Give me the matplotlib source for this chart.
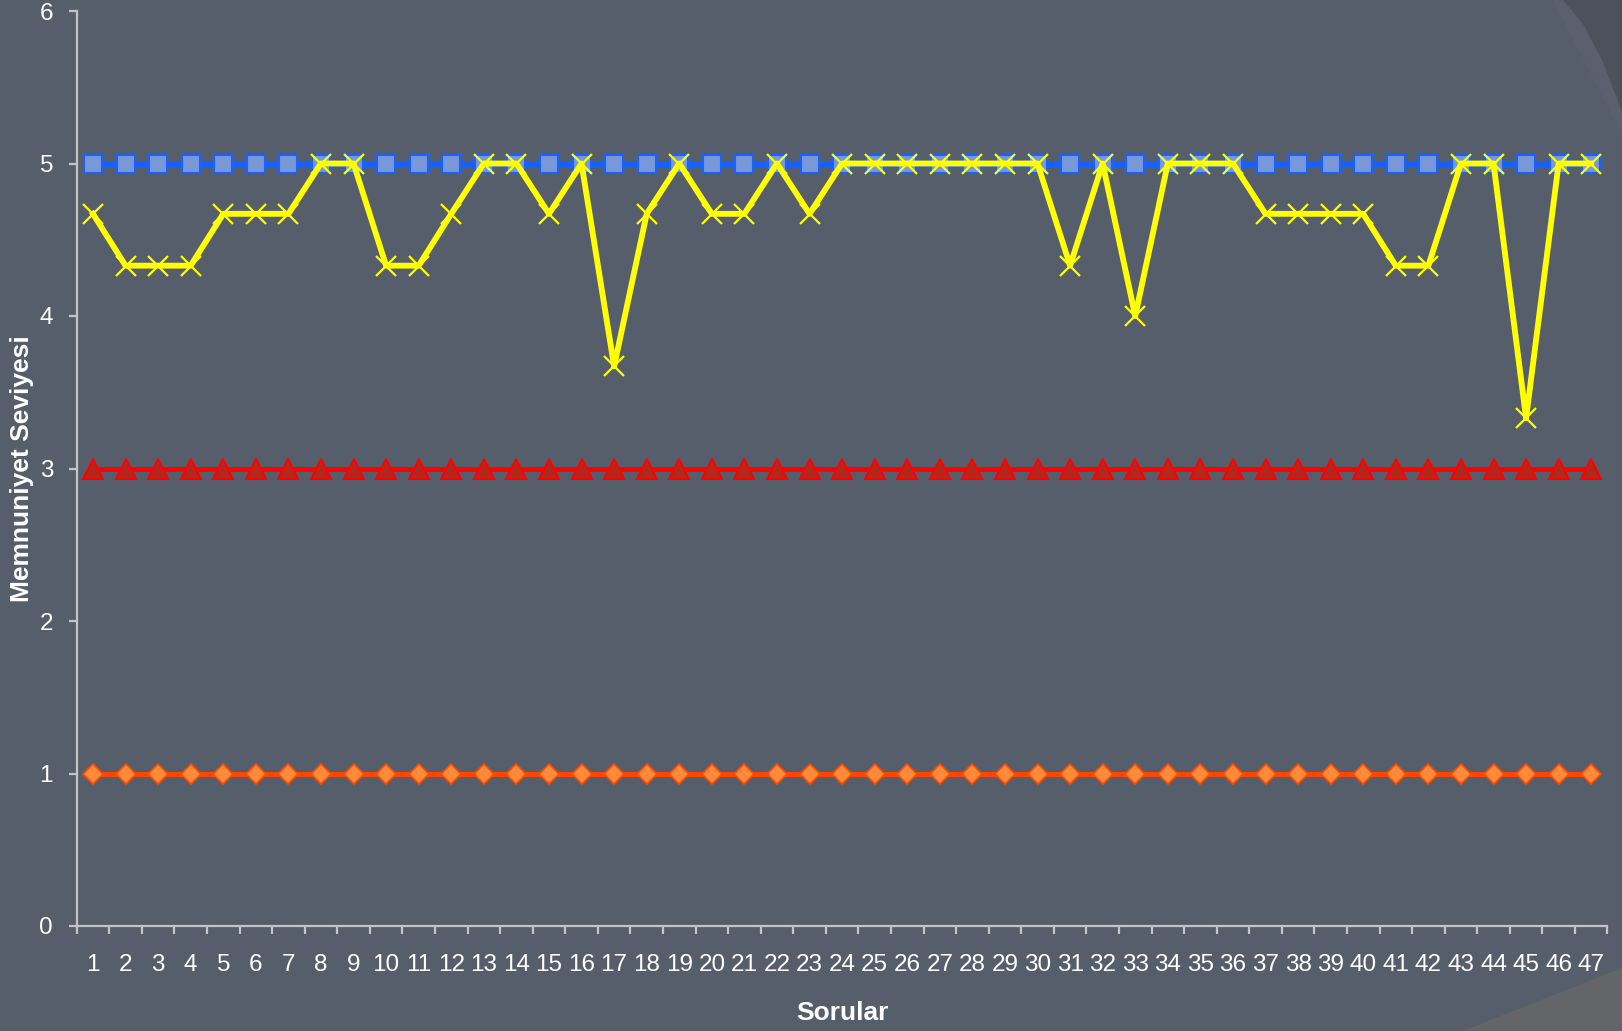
import matplotlib
matplotlib.use("Agg")
import matplotlib.pyplot as plt
from matplotlib.patches import Polygon
import numpy as np

plt.rcParams['font.family'] = ['Liberation Sans', 'DejaVu Sans']

questions = list(range(1, 48))
min_level = [1] * 47
mid_level = [3] * 47
max_level = [5] * 47
satisfaction = [4.67, 4.33, 4.33, 4.33, 4.67, 4.67, 4.67, 5, 5, 4.33,
                4.33, 4.67, 5, 5, 4.67, 5, 3.67, 4.67, 5, 4.67,
                4.67, 5, 4.67, 5, 5, 5, 5, 5, 5, 5,
                4.33, 5, 4, 5, 5, 5, 4.67, 4.67, 4.67, 4.67,
                4.33, 4.33, 5, 5, 3.33, 5, 5]
y_ticks = [0, 1, 2, 3, 4, 5, 6]
x_label = "Sorular"
y_label = "Memnuniyet Seviyesi"

W, H = 1622, 1031
bg = '#575e6b'
fig = plt.figure(figsize=(W / 100, H / 100), dpi=100, facecolor=bg)

# decorative theme shapes (figure coordinates)
def fx(px):
    return px / W

def fy(py):
    return 1 - py / H

fig.patches.append(Polygon([(fx(1553), fy(0)), (fx(1622), fy(0)), (fx(1622), fy(135))],
                           closed=True, transform=fig.transFigure, facecolor='#5a606d',
                           edgecolor='none', zorder=0))
fig.patches.append(Polygon([(fx(1563), fy(0)), (fx(1622), fy(0)), (fx(1622), fy(112)),
                            (fx(1603), fy(62)), (fx(1583), fy(24))],
                           closed=True, transform=fig.transFigure, facecolor='#4c515b',
                           edgecolor='none', zorder=0))
fig.patches.append(Polygon([(fx(1463), fy(1031)), (fx(1622), fy(968)), (fx(1622), fy(1031))],
                           closed=True, transform=fig.transFigure, facecolor='#646569',
                           edgecolor='none', zorder=0))

ax = fig.add_axes([76.7 / W, 1 - 926 / H, (1607.5 - 76.7) / W, (926 - 11) / H])
ax.set_facecolor('none')

x = np.array(questions)
ax.plot(x, min_level, color='#ff4500', lw=3.6, marker='D', markersize=10.5,
        markerfacecolor='#ff8a3a', markeredgecolor='#ff4a00', markeredgewidth=1.2, zorder=3)
ax.plot(x, mid_level, color='#ff0000', lw=3.6, marker='^', markersize=14,
        markerfacecolor='#b3281c', markeredgecolor='#ff0000', markeredgewidth=1.5, zorder=3)
ax.plot(x, max_level, color='#1560ff', lw=3.6, marker='s', markersize=13,
        markerfacecolor='#7898d8', markeredgecolor='#1a62ff', markeredgewidth=1.5, zorder=4)
ax.plot(x, satisfaction, color='#ffff00', lw=4.2, marker='x', markersize=14,
        markeredgecolor='#ffff00', markeredgewidth=1.6, zorder=5)

ax.set_xlim(0.5, 47.5)
ax.set_ylim(0, 6)
ax.set_yticks(y_ticks)
ax.set_xticks(np.arange(0.5, 48, 1))
ax.set_xticklabels([])
ax.set_xticks(x, minor=True)
ax.set_xticklabels([str(q) for q in questions], minor=True)

for s in ['top', 'right']:
    ax.spines[s].set_visible(False)
for s in ['left', 'bottom']:
    ax.spines[s].set_color('#c4c4c4')
    ax.spines[s].set_linewidth(1.6)

ax.tick_params(axis='y', which='major', direction='out', length=6, width=1.6,
               color='#c4c4c4', labelcolor='white', labelsize=17.5, pad=11)
ax.tick_params(axis='x', which='major', direction='out', length=5.5, width=1.6,
               color='#c4c4c4')
ax.tick_params(axis='x', which='minor', length=0, labelcolor='white', labelsize=17.5, pad=20)

fig.text(842 / W, 1 - 1013 / H, x_label, ha='center', va='center',
         color='white', fontsize=19, fontweight='bold')
fig.text(22 / W, 1 - 469 / H, y_label, ha='center', va='center', rotation=90,
         color='white', fontsize=19, fontweight='bold')

fig.savefig('out.png', dpi=100, facecolor=bg)
